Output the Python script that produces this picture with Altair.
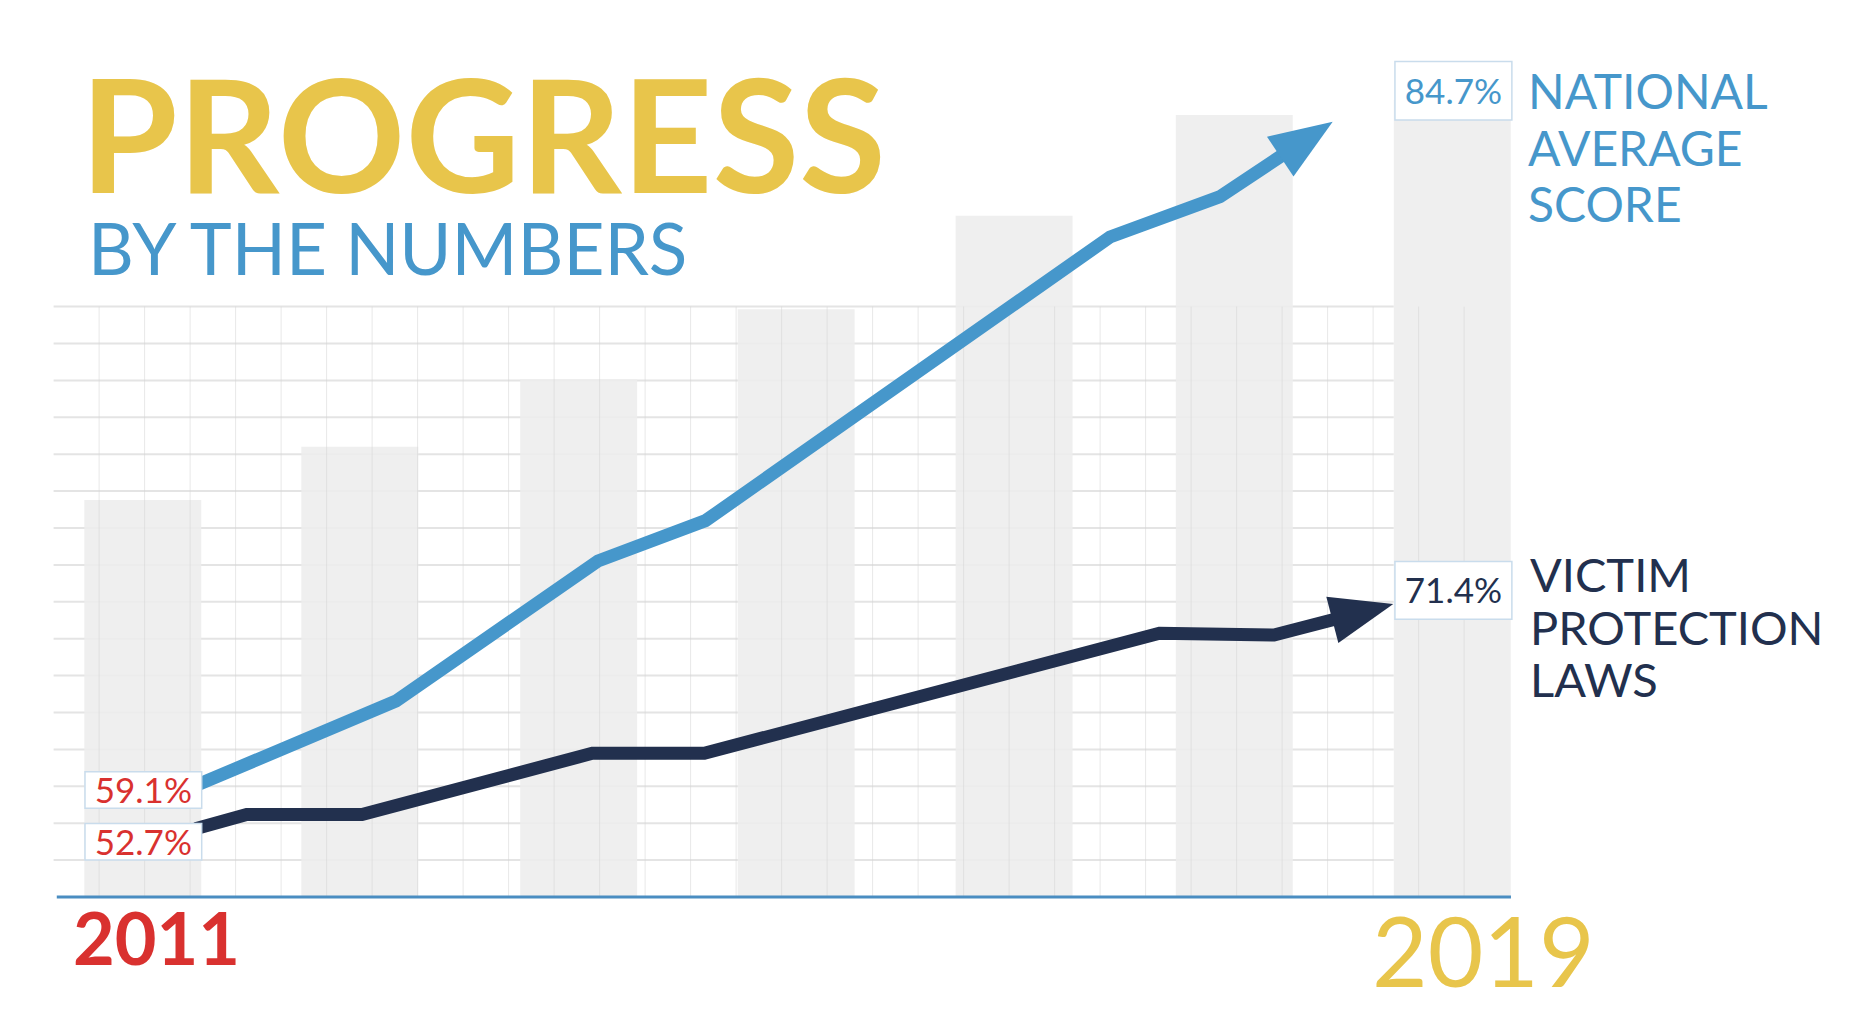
import math
import altair as alt
import pandas as pd

# ---------------- data (in grid units) ----------------
bar_center = [1.96, 6.73, 11.54, 16.32, 21.11, 25.95, 30.74]
bar_height = [10.76, 12.20, 14.04, 15.93, 18.46, 21.19, 21.60]
bar_width = 2.57

national_x = [3.255, 7.525, 11.965, 14.327, 23.218, 25.635, 28.112]
national_y = [3.089, 5.310, 9.106, 10.198, 17.886, 18.979, 21.011]

victim_x = [3.255, 4.244, 6.778, 11.840, 14.301, 24.305, 26.822, 29.444]
victim_y = [1.897, 2.236, 2.236, 3.894, 3.894, 7.146, 7.100, 7.940]

label_values = ["59.1%", "52.7%", "84.7%", "71.4%"]
label_x0 = [0.69, 0.69, 29.48, 29.48]
label_x1 = [3.255, 3.255, 32.05, 32.05]
label_yc = [2.90, 1.50, 21.85, 8.31]
label_h = [0.99, 0.99, 1.58, 1.56]

grid_rows = list(range(1, 17))
grid_cols = list(range(1, 32))

# ---------------- layout / style ----------------
W, H = 1850, 1010
X_PX, X_OFF = 45.5, 45.6
Y_PX, Y_BASE = 36.9, 889.0
XS = alt.Scale(domain=[-X_OFF / X_PX, (W - X_OFF) / X_PX], nice=False, zero=False)
YS = alt.Scale(domain=[(Y_BASE - H) / Y_PX, Y_BASE / Y_PX], nice=False, zero=False)

BLUE = "#4697CB"
NAVY = "#22304E"
YELLOW = "#E8C54B"
RED = "#D9312F"
BAR = "#EDEDED"
GRID = "#E4E4E4"
BASE = "#4A8DC1"
BOX_STROKE = "#C9DCEC"
FONT = "Lato"
HEAD = "M0,0L0.76,2L-0.76,2Z"


def X(f):
    return alt.X(f, type="quantitative", scale=XS, axis=None)


def Y(f):
    return alt.Y(f, type="quantitative", scale=YS, axis=None)


# horizontal grid
hgrid = pd.DataFrame({"y": grid_rows, "x0": 0.0, "x1": bar_center[-1] - bar_width / 2})
h_layer = alt.Chart(hgrid).mark_rule(color=GRID, strokeWidth=2).encode(
    x=X("x0"), x2="x1", y=Y("y"))

# bars
bars = pd.DataFrame({"c": bar_center, "h": bar_height})
bars["x0"] = bars["c"] - bar_width / 2
bars["x1"] = bars["c"] + bar_width / 2
bars["y0"] = 0.0
bar_layer = alt.Chart(bars).mark_rect(color=BAR, opacity=0.88).encode(
    x=X("x0"), x2="x1", y=Y("y0"), y2="h")

# vertical grid
vgrid = pd.DataFrame({"x": grid_cols, "y0": 0.0, "y1": 16.0})
v_layer = alt.Chart(vgrid).mark_rule(color="#D4D4D4", strokeWidth=1, opacity=0.55).encode(
    x=X("x"), y=Y("y0"), y2="y1")

# baseline
base_df = pd.DataFrame({"x0": [0.07], "x1": [32.03], "y": [0.0]})
base_layer = alt.Chart(base_df).mark_rule(color=BASE, strokeWidth=3).encode(
    x=X("x0"), x2="x1", y=Y("y"))


def arrow(xs, ys, color):
    # shaft stops inside the head, head tip sits on the last point
    xp, yp, xt, yt = xs[-2], ys[-2], xs[-1], ys[-1]
    dxp, dyp = (xt - xp) * X_PX, (yt - yp) * Y_PX
    L = math.hypot(dxp, dyp)
    back = 40.0
    sx = xt - (back / L) * dxp / X_PX
    sy = yt - (back / L) * dyp / Y_PX
    shaft = pd.DataFrame({"x": xs[:-1] + [sx], "y": ys[:-1] + [sy],
                          "i": list(range(len(xs)))})
    ang = math.degrees(math.atan2(dxp, dyp)) % 360
    line = alt.Chart(shaft).mark_line(color=color, strokeWidth=13, strokeCap="square",
                                      strokeJoin="miter").encode(
        x=X("x"), y=Y("y"), order=alt.Order("i:Q"))
    head = alt.Chart(pd.DataFrame({"x": [xt], "y": [yt]})).mark_point(
        shape=HEAD, size=3969, filled=True, opacity=1, color=color, angle=ang,
        strokeWidth=0).encode(x=X("x"), y=Y("y"))
    return line + head


nat_layer = arrow(national_x, national_y, BLUE)
vic_layer = arrow(victim_x, victim_y, NAVY)

# value boxes
boxes = pd.DataFrame({"t": label_values, "x0": label_x0, "x1": label_x1,
                      "yc": label_yc, "h": label_h,
                      "col": [RED, RED, BLUE, NAVY]})
boxes["y0"] = boxes["yc"] - boxes["h"] / 2
boxes["y1"] = boxes["yc"] + boxes["h"] / 2
boxes["xc"] = (boxes["x0"] + boxes["x1"]) / 2
box_layer = alt.Chart(boxes).mark_rect(fill="white", stroke=BOX_STROKE, strokeWidth=1.5).encode(
    x=X("x0"), x2="x1", y=Y("y0"), y2="y1")
box_text = alt.Chart(boxes).mark_text(font=FONT, fontSize=35, align="center",
                                      baseline="middle", dy=2).encode(
    x=X("xc"), y=Y("yc"), text="t:N", color=alt.Color("col:N", scale=None))


def label(text, px, py, size, color, weight="normal", baseline="alphabetic", lh=None):
    kw = dict(align="left", baseline=baseline, font=FONT, fontSize=size,
              fontWeight=weight, color=color)
    if lh is not None:
        kw["lineHeight"] = lh
        kw["lineBreak"] = "\n"
    return alt.Chart(pd.DataFrame({"t": [text]})).mark_text(**kw).encode(
        x=alt.value(px), y=alt.value(py), text="t:N")


t_progress = label("PROGRESS", 72, 185, 158, YELLOW, weight="bold")
t_sub = label("BY THE NUMBERS", 80, 267, 71, BLUE)
t_2011 = label("2011", 65, 957, 72, RED, weight="bold")
t_2019 = label("2019", 1364, 979, 96, YELLOW)
t_nat = label("NATIONAL\nAVERAGE\nSCORE", 1520, 101 - 38, 48, BLUE, baseline="top", lh=56.7)
t_vic = label("VICTIM\nPROTECTION\nLAWS", 1522, 584 - 37, 47, NAVY, baseline="top", lh=52.7)

chart = alt.layer(
    h_layer, bar_layer, v_layer, base_layer, nat_layer, vic_layer,
    box_layer, box_text, t_progress, t_sub, t_2011, t_2019, t_nat, t_vic
).properties(
    width=W, height=H, padding=0, autosize=alt.AutoSizeParams(type="none"),
    background="white"
).configure_view(strokeWidth=0)

chart.save("out.html", embed_options={"renderer": "svg", "actions": False})
